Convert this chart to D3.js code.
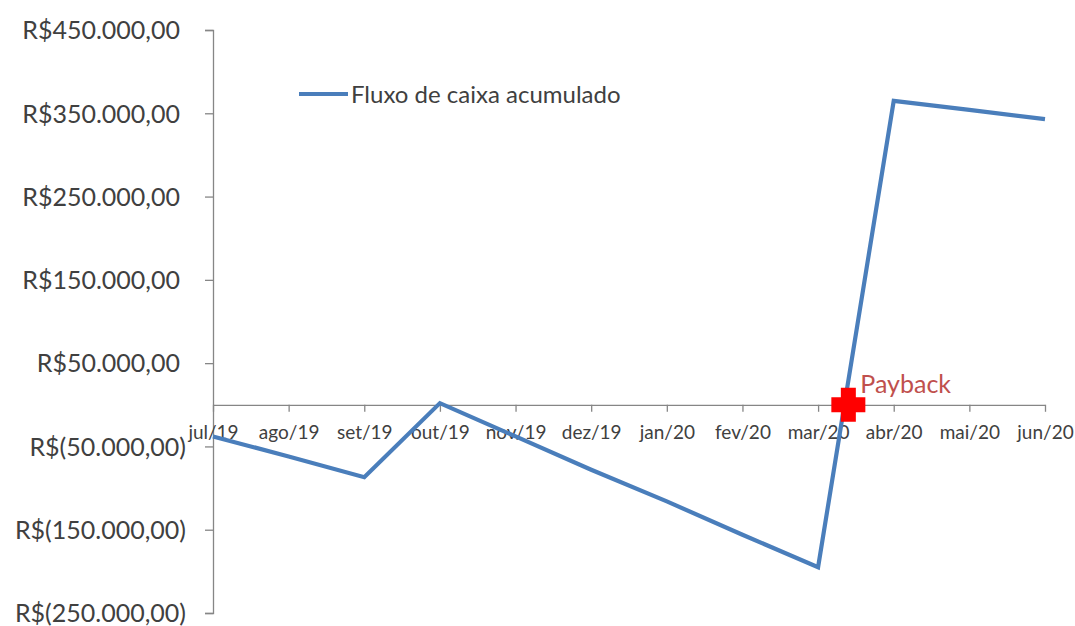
<!DOCTYPE html>
<html>
<head>
<meta charset="utf-8">
<script src="https://cdn.jsdelivr.net/npm/d3@7"></script>
<style>
  html, body { margin: 0; padding: 0; background: #fff; }
  svg { display: block; }
  text { font-family: Lato, "Open Sans", sans-serif; }
</style>
</head>
<body>
<svg id="chart" width="1075" height="626"></svg>
<script>
// Cumulative cash flow per month (R$)
const months = ["jul/19", "ago/19", "set/19", "out/19", "nov/19", "dez/19",
                "jan/20", "fev/20", "mar/20", "abr/20", "mai/20", "jun/20"];
const fluxoAcumulado = [-38000, -62000, -87000, 2000, -38000, -78000,
                        -116000, -156000, -195000, 365000, 354000, 343000];
const yTicks = [450000, 350000, 250000, 150000, 50000, -50000, -150000, -250000];
const seriesName = "Fluxo de caixa acumulado";
// Payback point: position along the month axis (index) and its value
const paybackIndex = [8.4];
const paybackValue = [0];
const paybackLabel = "Payback";

const svg = d3.select("#chart");
const plotLeft = 213, plotRight = 1045, plotTop = 30, plotBottom = 613;

const x = d3.scalePoint().domain(months).range([plotLeft, plotRight]);
const xi = d3.scaleLinear().domain([0, months.length - 1]).range([plotLeft, plotRight]);
const y = d3.scaleLinear().domain([-250000, 450000]).range([plotBottom, plotTop]);

const axisColor = "#868686";
const textColor = "#404040";

// Brazilian currency format, negatives in parentheses
const fmtNum = v => {
  const s = d3.format(",.2f")(Math.abs(v)).replace(/,/g, "#").replace(/\./g, ",").replace(/#/g, ".");
  return v < 0 ? "R$(" + s + ")" : "R$" + s;
};

// Vertical axis
const yAxis = d3.axisLeft(y).tickValues(yTicks).tickSize(8).tickFormat(fmtNum);
const gy = svg.append("g").attr("transform", `translate(${plotLeft},0)`).call(yAxis);
gy.select(".domain").attr("stroke", axisColor).attr("stroke-width", 1.3);
gy.selectAll(".tick line").attr("stroke", axisColor).attr("stroke-width", 1.3);
gy.selectAll(".tick text")
  .attr("fill", textColor)
  .attr("font-size", 25)
  .attr("font-family", "Lato, sans-serif")
  .attr("x", d => d < 0 ? -27 : -33)
  .attr("dy", "0.35em");

// Horizontal axis at zero
const xAxis = d3.axisBottom(x).tickSize(7).tickSizeOuter(0).tickFormat(d => d);
const gx = svg.append("g").attr("transform", `translate(0,${y(0)})`).call(xAxis);
gx.select(".domain").attr("stroke", axisColor).attr("stroke-width", 1.3);
gx.selectAll(".tick line").attr("stroke", axisColor).attr("stroke-width", 1.3);
gx.selectAll(".tick text")
  .attr("fill", textColor)
  .attr("font-size", 19)
  .attr("font-family", "Lato, sans-serif")
  .attr("y", 28)
  .attr("dy", "0.35em");

// Series line
const line = d3.line()
  .x((d, i) => x(months[i]))
  .y(d => y(d));
svg.append("path")
  .datum(fluxoAcumulado)
  .attr("fill", "none")
  .attr("stroke", "#4a7ebb")
  .attr("stroke-width", 4.2)
  .attr("stroke-linejoin", "miter")
  .attr("d", line);

// Payback marker (cross)
paybackIndex.forEach((pi, k) => {
  const cx = xi(pi), cy = y(paybackValue[k]);
  const a = 17, t = 7.5;
  const p = d3.path();
  p.moveTo(cx - t, cy - a); p.lineTo(cx + t, cy - a); p.lineTo(cx + t, cy - t);
  p.lineTo(cx + a, cy - t); p.lineTo(cx + a, cy + t); p.lineTo(cx + t, cy + t);
  p.lineTo(cx + t, cy + a); p.lineTo(cx - t, cy + a); p.lineTo(cx - t, cy + t);
  p.lineTo(cx - a, cy + t); p.lineTo(cx - a, cy - t); p.lineTo(cx - t, cy - t);
  p.closePath();
  svg.append("path").attr("d", p.toString()).attr("fill", "#ff0000");
  svg.append("text")
    .attr("x", cx + 12)
    .attr("y", cy - 21)
    .attr("dy", "0.35em")
    .attr("fill", "#c0504d")
    .attr("font-size", 25)
    .text(paybackLabel);
});

// Legend
const lg = svg.append("g");
lg.append("line").attr("x1", 299).attr("x2", 348).attr("y1", 94).attr("y2", 94)
  .attr("stroke", "#4a7ebb").attr("stroke-width", 4.2);
lg.append("text").attr("x", 351).attr("y", 95).attr("dy", "0.35em")
  .attr("fill", textColor).attr("font-size", 24).text(seriesName);
</script>
</body>
</html>
